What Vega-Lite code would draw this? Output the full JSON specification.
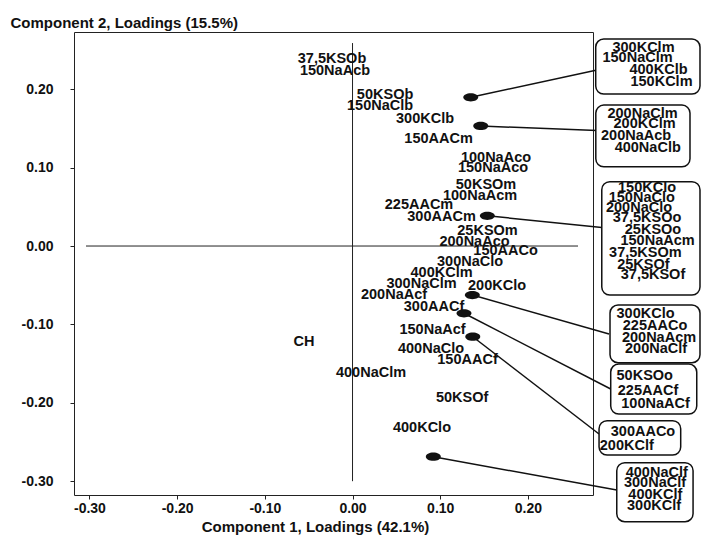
{
  "$schema": "https://vega.github.io/schema/vega-lite/v6.json",
  "width": 519,
  "height": 463,
  "autosize": {"type": "none"},
  "padding": {"left": 74, "top": 32, "right": 109, "bottom": 42},
  "background": "white",
  "config": {
    "view": {"stroke": "#222", "strokeWidth": 1},
    "font": "Liberation Sans",
    "text": {"font": "Liberation Sans", "fontWeight": "bold", "fontSize": 14.5, "color": "#111"},
    "axis": {
      "grid": false, "domain": false,
      "labelFont": "Liberation Sans", "labelFontWeight": "bold", "labelFontSize": 14, "labelColor": "#111",
      "tickColor": "#222", "tickSize": 4,
      "titleFont": "Liberation Sans", "titleFontWeight": "bold", "titleFontSize": 15, "titleColor": "#111"
    }
  },
  "datasets": {
    "points": [
      {"label": "37,5KSOb", "pc1": -0.0234, "pc2": 0.2385},
      {"label": "150NaAcb", "pc1": -0.0200, "pc2": 0.2232},
      {"label": "50KSOb", "pc1": 0.0371, "pc2": 0.1926},
      {"label": "150NaClb", "pc1": 0.0314, "pc2": 0.1792},
      {"label": "300KClb", "pc1": 0.0827, "pc2": 0.1614},
      {"label": "150AACm", "pc1": 0.0981, "pc2": 0.1371},
      {"label": "100NaAco", "pc1": 0.1636, "pc2": 0.1122},
      {"label": "150NaAco", "pc1": 0.1602, "pc2": 0.1001},
      {"label": "50KSOm", "pc1": 0.1522, "pc2": 0.0772},
      {"label": "100NaAcm", "pc1": 0.1454, "pc2": 0.0644},
      {"label": "225AACm", "pc1": 0.0758, "pc2": 0.0517},
      {"label": "300AACm", "pc1": 0.1015, "pc2": 0.0364},
      {"label": "25KSOm", "pc1": 0.1539, "pc2": 0.0191},
      {"label": "200NaAco", "pc1": 0.1391, "pc2": 0.0051},
      {"label": "150AACo", "pc1": 0.1745, "pc2": -0.0064},
      {"label": "300NaClo", "pc1": 0.1340, "pc2": -0.0198},
      {"label": "400KClm", "pc1": 0.1015, "pc2": -0.0344},
      {"label": "300NaClm", "pc1": 0.0787, "pc2": -0.0485},
      {"label": "200KClo", "pc1": 0.1648, "pc2": -0.0504},
      {"label": "200NaAcf", "pc1": 0.0473, "pc2": -0.0619},
      {"label": "300AACf", "pc1": 0.0929, "pc2": -0.0772},
      {"label": "150NaAcf", "pc1": 0.0912, "pc2": -0.1065},
      {"label": "CH", "pc1": -0.0553, "pc2": -0.1224},
      {"label": "400NaClo", "pc1": 0.0895, "pc2": -0.1320},
      {"label": "150AACf", "pc1": 0.1311, "pc2": -0.1460},
      {"label": "400NaClm", "pc1": 0.0211, "pc2": -0.1614},
      {"label": "50KSOf", "pc1": 0.1249, "pc2": -0.1945},
      {"label": "400KClo", "pc1": 0.0792, "pc2": -0.2315}
    ],
    "clusters": [
      {"group": 1, "pc1": 0.1348, "pc2": 0.1897, "boxX": 0.2788, "boxY": 0.2245},
      {"group": 2, "pc1": 0.1462, "pc2": 0.1531, "boxX": 0.2788, "boxY": 0.1473},
      {"group": 3, "pc1": 0.1537, "pc2": 0.0386, "boxX": 0.2842, "boxY": 0.0236},
      {"group": 4, "pc1": 0.1366, "pc2": -0.0625, "boxX": 0.2925, "boxY": -0.1122},
      {"group": 5, "pc1": 0.1271, "pc2": -0.0858, "boxX": 0.2944, "boxY": -0.1824},
      {"group": 6, "pc1": 0.1371, "pc2": -0.1157, "boxX": 0.2811, "boxY": -0.2398},
      {"group": 7, "pc1": 0.0921, "pc2": -0.2688, "boxX": 0.3013, "boxY": -0.3112}
    ],
    "boxes": [
      {"group": 1, "left": 0.2773, "right": 0.3962, "top": 0.2640, "bottom": 0.1939},
      {"group": 2, "left": 0.2774, "right": 0.3848, "top": 0.1798, "bottom": 0.1011},
      {"group": 3, "left": 0.2842, "right": 0.3962, "top": 0.0820, "bottom": -0.0625},
      {"group": 4, "left": 0.2936, "right": 0.3962, "top": -0.0753, "bottom": -0.1489},
      {"group": 5, "left": 0.2944, "right": 0.3925, "top": -0.1505, "bottom": -0.2143},
      {"group": 6, "left": 0.2811, "right": 0.3742, "top": -0.2228, "bottom": -0.2666},
      {"group": 7, "left": 0.3013, "right": 0.3883, "top": -0.2764, "bottom": -0.3517}
    ],
    "members": [
      {"label": "300KClm", "pc1": 0.3318, "pc2": 0.2526},
      {"label": "150NaClm", "pc1": 0.3250, "pc2": 0.2398},
      {"label": "400KClb", "pc1": 0.3489, "pc2": 0.2249},
      {"label": "150KClm", "pc1": 0.3523, "pc2": 0.2092},
      {"label": "200NaClm", "pc1": 0.3307, "pc2": 0.1690},
      {"label": "200KClm", "pc1": 0.3330, "pc2": 0.1552},
      {"label": "200NaAcb", "pc1": 0.3233, "pc2": 0.1403},
      {"label": "400NaClb", "pc1": 0.3366, "pc2": 0.1246},
      {"label": "150KClo", "pc1": 0.3358, "pc2": 0.0744},
      {"label": "150NaClo", "pc1": 0.3298, "pc2": 0.0612},
      {"label": "200NaClo", "pc1": 0.3267, "pc2": 0.0485},
      {"label": "37,5KSOo", "pc1": 0.3358, "pc2": 0.0353},
      {"label": "25KSOo", "pc1": 0.3426, "pc2": 0.0210},
      {"label": "150NaAcm", "pc1": 0.3478, "pc2": 0.0068},
      {"label": "37,5KSOm", "pc1": 0.3339, "pc2": -0.0083},
      {"label": "25KSOf", "pc1": 0.3316, "pc2": -0.0239},
      {"label": "37,5KSOf", "pc1": 0.3426, "pc2": -0.0376},
      {"label": "300KClo", "pc1": 0.3341, "pc2": -0.0867},
      {"label": "225AACo", "pc1": 0.3449, "pc2": -0.1020},
      {"label": "200NaAcm", "pc1": 0.3495, "pc2": -0.1167},
      {"label": "200NaClf", "pc1": 0.3461, "pc2": -0.1314},
      {"label": "50KSOo", "pc1": 0.3332, "pc2": -0.1656},
      {"label": "225AACf", "pc1": 0.3369, "pc2": -0.1853},
      {"label": "100NaACf", "pc1": 0.3455, "pc2": -0.2015},
      {"label": "300AACo", "pc1": 0.3312, "pc2": -0.2366},
      {"label": "200KClf", "pc1": 0.3127, "pc2": -0.2548},
      {"label": "400NaClf", "pc1": 0.3469, "pc2": -0.2889},
      {"label": "300NaClf", "pc1": 0.3449, "pc2": -0.3023},
      {"label": "400KClf", "pc1": 0.3453, "pc2": -0.3170},
      {"label": "300KClf", "pc1": 0.3438, "pc2": -0.3314}
    ],
    "zerolines": [
      {"x1": -0.3039, "x2": 0.2571, "y1": 0, "y2": 0},
      {"x1": 0, "x2": 0, "y1": -0.30, "y2": 0.2589}
    ]
  },
  "layer": [
    {
      "data": {"name": "zerolines"},
      "mark": {"type": "rule", "color": "#222", "strokeWidth": 1},
      "encoding": {
        "x": {"field": "x1", "type": "quantitative", "title": "Component 1, Loadings (42.1%)", "scale": {"domain": [-0.3176, 0.2742], "nice": false, "zero": false},
          "axis": {"values": [-0.3, -0.2, -0.1, 0, 0.1, 0.2], "labelExpr": "(datum.value < 0 ? '-' : '') + format(abs(datum.value), '.2f')",
            "labelPadding": 2, "titleX": 241, "titleY": 36, "titleBaseline": "alphabetic", "titleAlign": "center"}},
        "x2": {"field": "x2"},
        "y": {"field": "y1", "type": "quantitative", "title": "Component 2, Loadings (15.5%)", "scale": {"domain": [-0.3176, 0.2730], "nice": false, "zero": false},
          "axis": {"values": [-0.3, -0.2, -0.1, 0, 0.1, 0.2], "labelExpr": "(datum.value < 0 ? '-' : '') + format(abs(datum.value), '.2f')",
            "labelPadding": 17, "titleAngle": 0, "titleAlign": "left", "titleBaseline": "alphabetic", "titleX": -64, "titleY": -5}},
        "y2": {"field": "y2"}
      }
    },
    {
      "data": {"name": "clusters"},
      "mark": {"type": "rule", "color": "#111", "strokeWidth": 1.5},
      "encoding": {
        "x": {"field": "pc1", "type": "quantitative", "title": "Component 1, Loadings (42.1%)"},
        "y": {"field": "pc2", "type": "quantitative", "title": "Component 2, Loadings (15.5%)"},
        "x2": {"field": "boxX"},
        "y2": {"field": "boxY"}
      }
    },
    {
      "data": {"name": "clusters"},
      "mark": {"type": "point", "filled": true, "color": "#111", "opacity": 1, "size": 225,
        "shape": "M -1 0 A 1 0.55 0 1 1 1 0 A 1 0.55 0 1 1 -1 0 Z"},
      "encoding": {
        "x": {"field": "pc1", "type": "quantitative", "title": "Component 1, Loadings (42.1%)"},
        "y": {"field": "pc2", "type": "quantitative", "title": "Component 2, Loadings (15.5%)"}
      }
    },
    {
      "data": {"name": "boxes"},
      "mark": {"type": "rect", "fill": "white", "stroke": "#111", "strokeWidth": 1.5, "cornerRadius": 8},
      "encoding": {
        "x": {"field": "left", "type": "quantitative", "title": "Component 1, Loadings (42.1%)"},
        "x2": {"field": "right"},
        "y": {"field": "top", "type": "quantitative", "title": "Component 2, Loadings (15.5%)"},
        "y2": {"field": "bottom"}
      }
    },
    {
      "data": {"name": "points"},
      "mark": {"type": "text", "align": "center", "baseline": "middle"},
      "encoding": {
        "x": {"field": "pc1", "type": "quantitative", "title": "Component 1, Loadings (42.1%)"},
        "y": {"field": "pc2", "type": "quantitative", "title": "Component 2, Loadings (15.5%)"},
        "text": {"field": "label"}
      }
    },
    {
      "data": {"name": "members"},
      "mark": {"type": "text", "align": "center", "baseline": "middle"},
      "encoding": {
        "x": {"field": "pc1", "type": "quantitative", "title": "Component 1, Loadings (42.1%)"},
        "y": {"field": "pc2", "type": "quantitative", "title": "Component 2, Loadings (15.5%)"},
        "text": {"field": "label"}
      }
    }
  ]
}
